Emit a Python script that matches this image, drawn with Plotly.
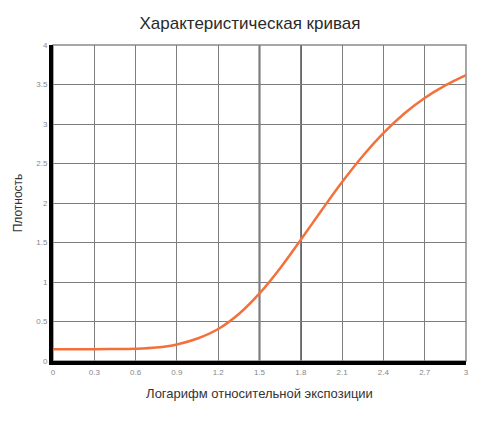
import plotly.graph_objects as go

# Data
log_exposure = [0.0, 0.3, 0.45, 0.6, 0.75, 0.9, 1.05, 1.2, 1.35, 1.5, 1.65, 1.8, 1.95,
                2.1, 2.25, 2.4, 2.55, 2.7, 2.85, 3.0]
density = [0.15, 0.15, 0.151, 0.155, 0.17, 0.21, 0.285, 0.405, 0.595, 0.855, 1.175,
           1.535, 1.905, 2.265, 2.595, 2.885, 3.13, 3.33, 3.49, 3.62]

x_tickvals = [0, 0.3, 0.6, 0.9, 1.2, 1.5, 1.8, 2.1, 2.4, 2.7, 3.0]
x_ticktext = ["0", "0.3", "0.6", "0.9", "1.2", "1.5", "1.8", "2.1", "2.4", "2.7", "3"]
y_tickvals = [0, 0.5, 1, 1.5, 2, 2.5, 3, 3.5, 4]
y_ticktext = ["0", "0.5", "1", "1.5", "2", "2.5", "3", "3.5", "4"]
highlight_x = [1.5, 1.8]

FONT = "Liberation Sans, Arial, sans-serif"

fig = go.Figure()
fig.add_trace(go.Scatter(
    x=log_exposure, y=density, mode="lines",
    line=dict(color="#F4703A", width=2.5, shape="spline", smoothing=1.0),
    hoverinfo="skip", showlegend=False,
))

shapes = []
for hx in highlight_x:
    shapes.append(dict(type="line", xref="x", yref="paper", x0=hx, x1=hx, y0=0, y1=1,
                       line=dict(color="#000000", width=1.6), layer="between"))
shapes.append(dict(type="rect", xref="paper", yref="paper", x0=0, x1=1, y0=0, y1=1,
                   line=dict(color="#8a8a8a", width=1.5), layer="below"))

fig.update_layout(
    width=500, height=424,
    margin=dict(l=53, r=34, t=45, b=63),
    paper_bgcolor="white", plot_bgcolor="white",
    font=dict(family=FONT, color="#333333"),
    title=dict(text="Характеристическая кривая", x=0.5, xanchor="center",
               y=0.946, yanchor="middle", font=dict(size=17, color="#2a2a2a")),
    shapes=shapes,
    xaxis=dict(range=[0, 3], tickvals=x_tickvals, ticktext=x_ticktext,
               showgrid=True, gridcolor="#7d7d7d", gridwidth=1.4,
               zeroline=False, showline=True, linecolor="black", linewidth=4,
               ticks="", tickfont=dict(size=8, color="#888888"), automargin=False,
               title=dict(text="Логарифм относительной экспозиции",
                          font=dict(size=13, color="#333333"), standoff=14)),
    yaxis=dict(range=[0, 4], tickvals=y_tickvals, ticktext=y_ticktext,
               showgrid=True, gridcolor="#7d7d7d", gridwidth=1.4,
               zeroline=False, showline=True, linecolor="black", linewidth=4,
               ticks="", tickfont=dict(size=8, color="#888888"), automargin=False,
               title=dict(text="Плотность", font=dict(size=12, color="#333333"),
                          standoff=12)),
)

fig.write_html("out.html", config={"displayModeBar": False},
               post_script="document.body.style.margin='0';")
